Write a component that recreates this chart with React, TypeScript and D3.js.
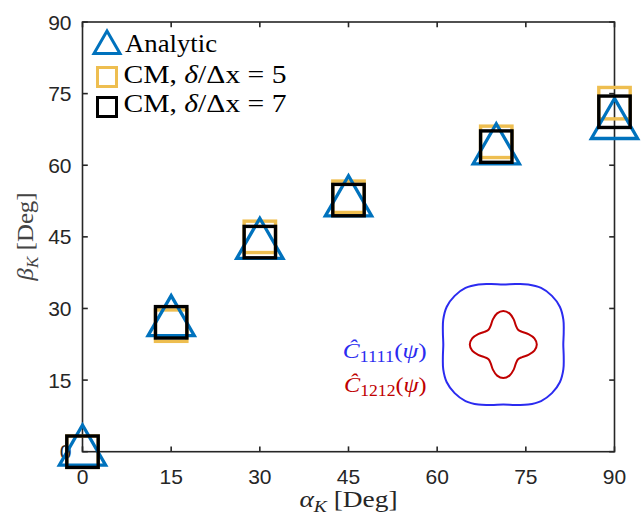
import React from "react";
import * as d3 from "d3";

// ---- data ----
const alphaK = [0, 15, 30, 45, 70, 90];
const analytic = [0, 27.1, 43.3, 52.2, 63.1, 68.4];
const cm5 = [0, 26.4, 45.0, 53.4, 64.9, 73.0];
const cm7 = [0, 27.1, 43.9, 52.7, 63.9, 71.2];
const xTicks = [0, 15, 30, 45, 60, 75, 90];
const yTicks = [0, 15, 30, 45, 60, 75, 90];

// inset polar curves: radius sampled over one octant (deg), mirrored by symmetry
const octantAngles = [0, 11.25, 22.5, 33.75, 45];
const c1111 = [6.0, 6.16, 6.5, 6.8, 6.88];
const c1212 = [3.35, 3.17, 2.72, 2.27, 2.09];

const W = 642, H = 516;
const L = 82.5, R = 614.5, T = 22, B = 451.7;
const AXC = "#262626";
const BLUE = "#0072BD";
const YEL = "#EEBE50";

const x = d3.scaleLinear().domain([0, 90]).range([L, R]);
const y = d3.scaleLinear().domain([0, 90]).range([B, T]);

function triPath(cx: number, cy: number, r: number) {
  const p = d3.path();
  p.moveTo(cx, cy - r);
  p.lineTo(cx + r * Math.cos(Math.PI / 6), cy + r / 2);
  p.lineTo(cx - r * Math.cos(Math.PI / 6), cy + r / 2);
  p.closePath();
  return p.toString();
}

function fullCurve(vals: number[]) {
  const pts: [number, number][] = [];
  for (let q = 0; q < 4; q++) {
    for (let i = 0; i < octantAngles.length - 1; i++) {
      pts.push([(q * 90 + octantAngles[i]) * Math.PI / 180, vals[i]]);
    }
    for (let i = octantAngles.length - 1; i > 0; i--) {
      pts.push([(q * 90 + 90 - octantAngles[i]) * Math.PI / 180, vals[i]]);
    }
  }
  return pts;
}

export default function App() {
  const rScale = d3.scaleLinear().domain([0, 1]).range([0, 10]);
  const radial = d3
    .lineRadial<[number, number]>()
    .angle((d) => d[0])
    .radius((d) => rScale(d[1]))
    .curve(d3.curveCatmullRomClosed);
  const icx = 503.3, icy = 344.5;
  const tick = 5.3;
  const serif = "'Liberation Serif', 'Times New Roman', serif";
  const sans = "'Liberation Sans', Arial, Helvetica, sans-serif";

  return (
    <svg
      width={W}
      height={H}
      viewBox={`0 0 ${W} ${H}`}
      style={{ position: "absolute", left: 0, top: 0, background: "#fff" }}
    >
      <rect x={0} y={0} width={W} height={H} fill="#fff" />
      <rect x={L} y={T} width={R - L} height={B - T} fill="none" stroke={AXC} strokeWidth={1.6} />
      {xTicks.map((t) => (
        <g key={"xt" + t}>
          <line x1={x(t)} x2={x(t)} y1={B} y2={B - tick} stroke={AXC} strokeWidth={1.6} />
          <line x1={x(t)} x2={x(t)} y1={T} y2={T + tick} stroke={AXC} strokeWidth={1.6} />
          <text x={x(t)} y={484} textAnchor="middle" fontFamily={sans} fontSize={21} fill={AXC}>
            {t}
          </text>
        </g>
      ))}
      {yTicks.map((t) => (
        <g key={"yt" + t}>
          <line x1={L} x2={L + tick} y1={y(t)} y2={y(t)} stroke={AXC} strokeWidth={1.6} />
          <line x1={R} x2={R - tick} y1={y(t)} y2={y(t)} stroke={AXC} strokeWidth={1.6} />
          <text x={71.5} y={y(t) + 7.6} textAnchor="end" fontFamily={sans} fontSize={21} fill={AXC}>
            {t}
          </text>
        </g>
      ))}

      {/* axis labels */}
      <text x={348.5} y={507} textAnchor="middle" fontFamily={serif} fontSize={24} fill={AXC} textLength={98} lengthAdjust="spacingAndGlyphs">
        <tspan fontStyle="italic">α</tspan>
        <tspan fontStyle="italic" fontSize={17} dy={5}>K</tspan>
        <tspan dy={-5}> [Deg]</tspan>
      </text>
      <text
        transform="translate(33,236.5) rotate(-90)"
        textAnchor="middle"
        fontFamily={serif}
        fontSize={24}
        fill="#444"
        textLength={88}
        lengthAdjust="spacingAndGlyphs"
      >
        <tspan fontStyle="italic">β</tspan>
        <tspan fontStyle="italic" fontSize={17} dy={5}>K</tspan>
        <tspan dy={-5}> [Deg]</tspan>
      </text>

      {/* inset */}
      <path d={radial(fullCurve(c1111)) || ""} transform={`translate(${icx},${icy})`} fill="none" stroke="#2B2BF0" strokeWidth={2} />
      <path d={radial(fullCurve(c1212)) || ""} transform={`translate(${icx},${icy})`} fill="none" stroke="#C00000" strokeWidth={2} />
      <text x={342.7} y={358.3} fontFamily={serif} fontSize={22} fill="#2B2BF0" textLength={84} lengthAdjust="spacingAndGlyphs">
        <tspan fontStyle="italic">Ĉ</tspan>
        <tspan fontSize={16} dy={4}>1111</tspan>
        <tspan dy={-4}>(</tspan>
        <tspan fontStyle="italic">ψ</tspan>
        <tspan>)</tspan>
      </text>
      <text x={344} y={391.7} fontFamily={serif} fontSize={22} fill="#C00000" textLength={82.7} lengthAdjust="spacingAndGlyphs">
        <tspan fontStyle="italic">Ĉ</tspan>
        <tspan fontSize={16} dy={4}>1212</tspan>
        <tspan dy={-4}>(</tspan>
        <tspan fontStyle="italic">ψ</tspan>
        <tspan>)</tspan>
      </text>

      {/* data markers */}
      {alphaK.map((a, i) => (
        <rect key={"c5" + i} x={x(a) - 15.7} y={y(cm5[i]) - 15.7} width={31.4} height={31.4} fill="none" stroke={YEL} strokeWidth={3.4} />
      ))}
      {alphaK.map((a, i) => (
        <path key={"an" + i} d={triPath(x(a), y(analytic[i]), 26.7)} fill="none" stroke={BLUE} strokeWidth={3.3} strokeLinejoin="miter" strokeMiterlimit={10} />
      ))}
      {alphaK.map((a, i) => (
        <rect key={"c7" + i} x={x(a) - 15.7} y={y(cm7[i]) - 15.7} width={31.4} height={31.4} fill="none" stroke="#000" strokeWidth={3.4} />
      ))}

      {/* legend */}
      <path d={triPath(107, 46, 15)} fill="none" stroke={BLUE} strokeWidth={3} strokeLinejoin="miter" />
      <rect x={97.5} y={67.5} width={19} height={19} fill="none" stroke={YEL} strokeWidth={3} />
      <rect x={97.5} y={97.5} width={19} height={19} fill="none" stroke="#000" strokeWidth={3} />
      <text x={125} y={51.7} fontFamily={serif} fontSize={25} fill="#000" textLength={92} lengthAdjust="spacingAndGlyphs">Analytic</text>
      <text x={123.5} y={82.7} fontFamily={serif} fontSize={25} fill="#000" textLength={163} lengthAdjust="spacingAndGlyphs">
        CM, <tspan fontStyle="italic">δ</tspan>/Δx = 5
      </text>
      <text x={123.5} y={111.7} fontFamily={serif} fontSize={25} fill="#000" textLength={163} lengthAdjust="spacingAndGlyphs">
        CM, <tspan fontStyle="italic">δ</tspan>/Δx = 7
      </text>
    </svg>
  );
}
